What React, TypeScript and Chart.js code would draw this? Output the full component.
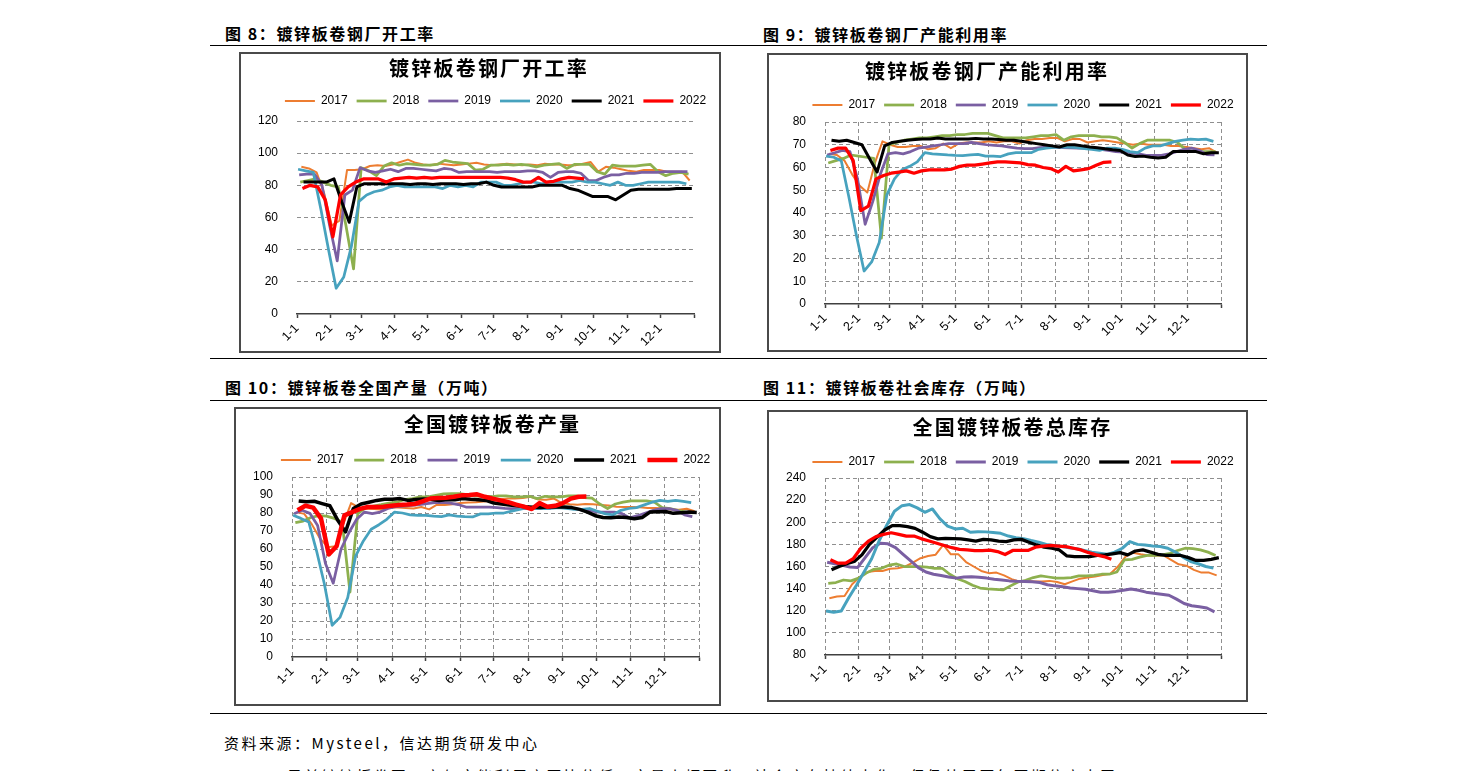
import React, { useEffect, useRef } from "react";
import { Chart, registerables } from "chart.js";

Chart.register(...registerables);

const AXIS_FONT = "'Liberation Sans', Arial, sans-serif";
const CJK_FONT = "'Noto Sans CJK SC', 'Noto Sans', sans-serif";

const YEARS = ["2017", "2018", "2019", "2020", "2021", "2022"];
// day-of-year of each year's first weekly observation
const YEAR_START_DAY = [4, 3, 2, 1, 6, 5];
const YEAR_COLORS = ["#ED7D31", "#8DB04E", "#7A5FA2", "#47A2BE", "#000000", "#FF0000"];
const MONTH_START_DAY = [0, 31, 59, 90, 120, 151, 181, 212, 243, 273, 304, 334];
const MONTH_LABELS = ["1-1", "2-1", "3-1", "4-1", "5-1", "6-1", "7-1", "8-1", "9-1", "10-1", "11-1", "12-1"];
const YEAR_LENGTH = 365;

// 图8 镀锌板卷钢厂开工率 (%)
const RATE_2017 = [91.5, 90.5, 88, 75, 55, 58, 89.5, 89.5, 90, 92, 92.5, 92, 93,
  94.5, 96, 94, 93, 92.5, 93.5, 93, 92.5, 93, 93.5, 94, 93, 92.5,
  93, 93.5, 93, 92.5, 93, 92.5, 93.5, 93, 93, 92.5, 92.5, 93.5, 94.5,
  88.5, 91.5, 91, 90, 89, 88.5, 89.5, 89.5, 89.5, 88.5, 88.5, 88.5, 83];
const RATE_2018 = [82, 83, 84, 82, 80, 79, 55, 28, 91, 89, 86, 92, 94,
  92.5, 93.5, 93, 92.5, 92.5, 93, 95.5, 94.5, 94, 93.5, 89.5, 90, 92.5,
  92.5, 93, 92.5, 93, 92.5, 91.5, 92.5, 93, 93.5, 90.5, 93, 93, 93,
  88.5, 87, 92.5, 92, 92, 92, 92.5, 93, 88.5, 86, 87.5, 88, 87];
const RATE_2019 = [86.5, 87, 87, 80, 55, 33, 74, 77, 91, 89, 88, 89, 90,
  88.5, 90.5, 90.5, 90, 89.5, 89, 90.5, 90, 88, 88.5, 88.5, 88.5, 88.5,
  88, 88.5, 88.5, 88.5, 89, 89, 88, 85, 88, 88.5, 88.5, 87.5, 83,
  83, 85, 86.5, 86.5, 87.5, 87.5, 88, 88, 88, 88.5, 88.5, 88.5, 88.5];
const RATE_2020 = [90, 89, 88, 65, 40, 16, 23, 42, 70, 74, 76, 77, 79,
  80, 79, 79, 79, 79, 79, 78, 80, 79, 80, 79, 82, 82,
  82, 80, 80, 81, 82, 82, 81, 82, 82, 82, 82, 83, 82,
  82, 81, 80, 82, 80, 80, 81, 82, 82, 82, 82, 82, 81];
const RATE_2021 = [82, 82, 82, 82, 84, 70, 57, 79, 81, 81, 81, 81, 81,
  81, 80.5, 81, 81, 80.5, 81, 81, 81, 80.5, 81, 81, 82, 80,
  79, 79, 79, 79, 79, 80, 80, 80, 80, 78, 77, 75, 73,
  73, 73, 71, 74, 77, 77.5, 77.5, 77.5, 77.5, 77.5, 78, 78, 78];
const RATE_2022 = [78, 80, 79, 71, 48, 74, 79, 82, 84, 84, 84, 82, 84,
  84.5, 85, 84.5, 85, 84.5, 85, 85, 85, 85, 85, 85, 85, 85,
  85, 84.5, 83.5, 82, 82, 85, 82, 82.5, 84, 85, 84.5, 84];

// 图9 镀锌板卷钢厂产能利用率 (%)
const UTIL_2017 = [66, 65.5, 63, 57, 52, 49, 62, 71.5, 70, 69, 69, 69.5, 69.5,
  68, 68.5, 70.5, 68.5, 70.5, 71, 71, 71, 71.5, 71, 71.5, 71.5, 70.5,
  72, 72.5, 72.5, 73, 73, 71.5, 72.5, 72.5, 71, 71.5, 72, 71.5, 71,
  70.5, 70, 70.5, 70, 70, 70, 69.5, 69.5, 69, 68.5, 68, 68.5, 66.5];
const UTIL_2018 = [62, 63, 64, 65.5, 65, 64.5, 64, 29, 70, 71, 72, 72.5, 73,
  73, 73.5, 74, 74, 74.5, 74.5, 75, 75, 75, 74, 73, 73, 73,
  73, 73.5, 74, 74, 74.5, 72, 73.5, 74, 74, 74, 73.5, 73.5, 73,
  71, 68.5, 70.5, 72, 72, 72, 72, 71, 68, 67, 67, 67, 67];
const UTIL_2019 = [65.5, 66.5, 67.5, 67, 55, 35, 45, 57, 66, 66.5, 66, 67, 68.5,
  69, 69.5, 70, 70.5, 70.5, 70.5, 71, 70.5, 70, 69.7, 69.5, 69, 68.5,
  68.3, 68.3, 68.7, 69, 69, 68.7, 68.6, 68.5, 68.5, 68.3, 68, 67.5, 67,
  66.8, 66.5, 66, 65.3, 65.3, 65.3, 66, 67, 68, 68.5, 67.5, 65.7, 65.5];
const UTIL_2020 = [65, 64.5, 63, 47, 30, 14.5, 18.5, 27, 48, 55, 59, 60.5, 62.5,
  66.5, 66, 65.8, 65.5, 65.3, 65.2, 65.5, 65.8, 65, 65, 64.8, 66, 66.5,
  66.5, 66.5, 68, 68.5, 68.8, 69, 69, 68.7, 68.3, 68, 67.5, 68.5, 68.5,
  68, 67, 66.5, 68.5, 69.5, 69.5, 70.5, 71.5, 72, 72.5, 72.3, 72.5, 71.5];
const UTIL_2021 = [72, 71.5, 72, 71, 70, 64, 58, 69.5, 71, 71.5, 72, 72.3, 72.5,
  72.5, 73, 72.5, 72.5, 72.5, 72.5, 72.8, 72.5, 72.5, 72.3, 72, 72, 71.5,
  71, 70.5, 70, 69.5, 69, 70, 70, 69.5, 69, 68.7, 68.2, 67.8, 67.5,
  65.5, 64.8, 65, 64.5, 64.2, 64.5, 67, 67, 67, 67, 66, 66.5, 66.5];
const UTIL_2022 = [67.5, 68.5, 68.5, 63, 41, 43, 55, 56.5, 57.5, 58, 58.5, 57.5, 58.5,
  59, 59, 59, 59.3, 60.5, 61, 61, 61.5, 62, 62.5, 62.5, 62.3, 62,
  61.3, 61, 60, 59.5, 58, 60.5, 58.5, 59, 59.5, 61, 62.3, 62.5];

// 图10 镀锌板卷全国产量 (万吨)
const OUTPUT_2017 = [80.5, 79.5, 73.5, 66, 61, 61.5, 74, 85.5, 83, 82.4, 82.2, 81.8, 83,
  83, 82.8, 82.5, 83.3, 82, 84.6, 84.4, 84.8, 85.5, 85.8, 86, 86.4, 86.8,
  87.5, 88, 88, 88.3, 89, 87.5, 87.3, 88, 85.5, 84.8, 84.6, 85, 84.8,
  84.5, 84.2, 83.5, 83.3, 83.3, 83.2, 82.8, 82.8, 82.5, 82, 81.8, 82.4, 81];
const OUTPUT_2018 = [74.6, 75.5, 77.5, 78.5, 78.3, 77, 75, 36, 79.6, 83, 83.8, 84.6, 85.5,
  86, 87.5, 88, 89, 89, 89.8, 90.6, 90.7, 90.7, 90.2, 89.5, 89.3, 89,
  89.5, 89.5, 89, 89, 89.3, 88, 89.3, 89, 89, 89.5, 89.5, 88.5, 88.3,
  85, 82.5, 85, 86, 86.7, 86.7, 86.7, 86, 83, 82.4, 81.5, 80.5, 80];
const OUTPUT_2019 = [79.6, 81.5, 79.8, 73, 52, 41, 60, 69, 76.5, 80.5, 79.6, 80.5, 82.5,
  83.5, 83.8, 84.2, 84.6, 85.2, 85.7, 85.9, 85.5, 84.7, 83.3, 83.3, 83.3, 83.3,
  83, 82.6, 82.4, 82.4, 82.6, 83.3, 83, 83, 83.3, 83, 82.5, 81.5, 81.2,
  80.5, 80.5, 80.5, 79.6, 77.3, 78.5, 80, 81.5, 82.4, 82.4, 81.5, 79, 78];
const OUTPUT_2020 = [78.7, 77, 75, 59, 40.7, 17.6, 22, 33, 56, 64.5, 71, 73.5, 76.5,
  80.5, 80, 79, 78.7, 78.7, 78.3, 78, 79, 78.3, 78, 77.8, 79.5, 79.5,
  80, 80, 81, 82, 83, 82.5, 82.5, 82.5, 83, 82.5, 82, 82, 82.5,
  81, 79.5, 79, 81.5, 82.5, 83, 84.5, 86, 87, 86.5, 87, 86.5, 85.8];
const OUTPUT_2021 = [86.7, 86.2, 86.5, 85.2, 84, 76, 69.5, 82.5, 85, 86, 87, 87.6, 87.6,
  88, 87, 87.5, 87.8, 87.5, 87, 87.5, 87.3, 88, 87.6, 87.3, 87, 85.5,
  85, 84.5, 84, 83.5, 83.2, 83, 83.5, 83.3, 83.3, 83, 82, 80.5, 78.5,
  77.5, 77.3, 77.8, 77.5, 76.8, 77.5, 80.5, 80.7, 80.8, 79.8, 80.2, 80.5, 80.3];
const OUTPUT_2022 = [81.5, 84, 83, 77, 57, 61.5, 78.7, 80.5, 82.3, 83.3, 83.3, 83.5, 84,
  84.5, 84.7, 85, 86.5, 88, 88.3, 88.5, 89, 89.8, 90, 90.4, 89, 88,
  87, 86, 84.7, 83.5, 82.2, 85.5, 83.5, 84, 85.5, 88, 89, 89.2];

// 图11 镀锌板卷社会库存 (万吨)
const STOCK_2017 = [131.3, 132.8, 133.4, 144, 150.5, 155, 156, 156, 158, 158.5, 160, 163.5, 167.5,
  169.5, 170.7, 179.5, 171, 171, 164, 160, 156, 154, 154.5, 152, 148.5, 146.4,
  147, 146.5, 146.5, 147, 146, 144, 146.5, 149, 150, 151, 152.4, 153.5, 160,
  169, 172.5, 171, 170, 170, 170, 166, 162, 160.8, 157, 154.5, 154.5, 152];
const STOCK_2018 = [144.8, 145.5, 147.8, 147, 149.5, 154, 157.5, 158.4, 161.2, 162.3, 160, 160, 159.8,
  159.5, 158.4, 158.4, 153, 149, 146.5, 143, 140.5, 139.8, 139.3, 138.8, 142.5, 146,
  147.5, 150, 151.5, 150.5, 149.5, 149.5, 150, 151.5, 151.5, 152, 153, 153, 155,
  166, 166.5, 168.5, 170, 170, 170.5, 172, 174.5, 176.5, 176.2, 175, 173, 170];
const STOCK_2019 = [163.8, 162.5, 161, 159.5, 159, 168, 177, 181, 180.5, 177, 171, 165, 159,
  155, 153, 151.8, 150.5, 149.5, 150.5, 150.8, 150.2, 149.5, 148.5, 147.8, 147, 146.6,
  146.4, 146.2, 145.5, 143.5, 142.5, 141.8, 140.6, 140, 139.5, 138, 136.8, 136.8, 137.5,
  138.5, 139.7, 138.5, 136.8, 135.8, 135, 134, 130.5, 126.5, 124.5, 123.7, 122.5, 119];
const STOCK_2020 = [119.8, 118.6, 119.8, 132, 143, 155, 167, 183.5, 197.5, 210, 215, 216, 213,
  209, 212, 203, 196.5, 194, 194.6, 191, 191.5, 191.3, 190.7, 190, 187.5, 186,
  185.2, 183.5, 182, 180, 179, 178, 177, 176, 174.5, 173, 172, 171, 173,
  176.5, 182.5, 180, 179.5, 178.5, 178, 176.5, 173, 168.5, 164.5, 162.5, 160, 158.5];
const STOCK_2021 = [157, 160, 162.5, 164.5, 170.5, 180, 186.5, 193, 197, 197, 196, 194.5, 191,
  187, 185, 185.5, 185.3, 185, 184, 183, 184.5, 184, 183, 182.5, 184, 184.5,
  182, 179.5, 177.5, 176.5, 175, 169.5, 169, 169, 169, 170, 170.5, 171.5, 172.5,
  170.5, 174, 175, 173, 171, 170, 170, 170, 168, 165.5, 165.5, 166.5, 168];
const STOCK_2022 = [166, 163, 163, 167, 176.5, 183, 187, 189, 190.5, 189, 187.5, 187.5, 185,
  183, 181, 179, 177, 175.5, 175, 174.4, 174.4, 174.8, 173.5, 170.8, 174.5, 174.5,
  174.5, 177.5, 178.5, 179, 178.5, 178, 176.5, 175, 172.5, 170.5, 169, 166.5];

type Box = { x: number; y: number; w: number; h: number };
type Plot = { l: number; r: number; t: number; b: number };
type Spec = {
  title: string;
  titleX: number;
  titleY: number;
  box: Box;
  plot: Plot;
  legendY: number;
  legendPad: number;
  yMin: number;
  yMax: number;
  yStep: number;
  series: number[][];
  widths: number[];
  vGrid: boolean;
};

const SPECS: Spec[] = [
  {
    title: "镀锌板卷钢厂开工率", titleX: 489, titleY: 69,
    box: { x: 239, y: 52, w: 482, h: 301 }, plot: { l: 297, r: 694, t: 121, b: 314 },
    legendY: 99, legendPad: 9, yMin: 0, yMax: 120, yStep: 20,
    series: [RATE_2017, RATE_2018, RATE_2019, RATE_2020, RATE_2021, RATE_2022],
    widths: [2, 2.75, 2.75, 2.75, 3, 3.25], vGrid: false,
  },
  {
    title: "镀锌板卷钢厂产能利用率", titleX: 987, titleY: 72,
    box: { x: 767, y: 53, w: 481, h: 299 }, plot: { l: 825, r: 1221, t: 122, b: 304 },
    legendY: 103, legendPad: 9, yMin: 0, yMax: 80, yStep: 10,
    series: [UTIL_2017, UTIL_2018, UTIL_2019, UTIL_2020, UTIL_2021, UTIL_2022],
    widths: [2, 2.75, 2.75, 2.75, 3, 3.25], vGrid: true,
  },
  {
    title: "全国镀锌板卷产量", titleX: 492.5, titleY: 425,
    box: { x: 234, y: 407, w: 487, h: 299 }, plot: { l: 292, r: 699, t: 477, b: 657 },
    legendY: 458, legendPad: 10.6, yMin: 0, yMax: 100, yStep: 10,
    series: [OUTPUT_2017, OUTPUT_2018, OUTPUT_2019, OUTPUT_2020, OUTPUT_2021, OUTPUT_2022],
    widths: [2, 2.75, 2.75, 2.75, 3.5, 4.5], vGrid: true,
  },
  {
    title: "全国镀锌板卷总库存", titleX: 1012.5, titleY: 428,
    box: { x: 767, y: 410, w: 481, h: 292 }, plot: { l: 825, r: 1221, t: 478, b: 655 },
    legendY: 460, legendPad: 9, yMin: 80, yMax: 240, yStep: 20,
    series: [STOCK_2017, STOCK_2018, STOCK_2019, STOCK_2020, STOCK_2021, STOCK_2022],
    widths: [2, 2.75, 3, 3, 3.25, 3.25], vGrid: true,
  },
];

const SIDE = 60;
const GRID_COLOR = "#8f8f8f";
const AXIS_COLOR = "#404040";

function makeConfig(s: Spec): any {
  const padTop = s.legendY - s.box.y - s.legendPad - 4;
  const gap = Math.max(0, s.plot.t - s.legendY - 18);
  const xH = s.box.y + s.box.h - s.plot.b;
  const datasets = YEARS.map((year, k) => ({
    label: year,
    data: s.series[k].map((v, i) => ({ x: YEAR_START_DAY[k] + 7 * i, y: v })),
    borderColor: YEAR_COLORS[k],
    backgroundColor: YEAR_COLORS[k],
    borderWidth: s.widths[k],
    pointRadius: 0,
    pointHoverRadius: 0,
    tension: 0,
    fill: false,
    borderJoinStyle: "round",
    order: YEARS.length - k,
    xAxisID: "x",
    yAxisID: "y",
  }));
  return {
    type: "line",
    data: { datasets },
    options: {
      responsive: false,
      animation: false,
      events: [],
      layout: { padding: { left: 0, right: 0, top: padTop, bottom: 0 } },
      plugins: {
        title: { display: false },
        tooltip: { enabled: false },
        legend: {
          display: true,
          position: "top",
          align: "center",
          labels: {
            usePointStyle: true,
            pointStyle: "line",
            pointStyleWidth: 30,
            boxHeight: 12,
            padding: s.legendPad,
            color: "#000",
            font: { family: AXIS_FONT, size: 12 },
            sort: (a: any, b: any) => a.datasetIndex - b.datasetIndex,
          },
        },
      },
      scales: {
        x: {
          type: "linear",
          axis: "x",
          position: "bottom",
          min: 0,
          max: YEAR_LENGTH,
          afterBuildTicks: (sc: any) => {
            sc.ticks = [...MONTH_START_DAY, YEAR_LENGTH].map((v) => ({ value: v }));
          },
          afterFit: (sc: any) => {
            sc.height = xH;
          },
          ticks: {
            autoSkip: false,
            minRotation: 45,
            maxRotation: 45,
            padding: 3,
            color: "#000",
            font: { family: AXIS_FONT, size: 12.5 },
            callback: (_v: any, i: number) => (i < MONTH_LABELS.length ? MONTH_LABELS[i] : ""),
          },
          grid: {
            display: true,
            drawOnChartArea: s.vGrid,
            drawTicks: true,
            tickLength: 4,
            tickColor: AXIS_COLOR,
            tickWidth: 1.5,
            color: GRID_COLOR,
            lineWidth: 1,
          },
          border: { display: true, color: AXIS_COLOR, width: 1.5, dash: [4, 3], z: 1 },
        },
        gapTop: {
          type: "linear",
          axis: "x",
          position: "top",
          display: true,
          ticks: { display: false },
          grid: { display: false },
          border: { display: false },
          afterFit: (sc: any) => {
            sc.height = gap;
          },
        },
        y: {
          type: "linear",
          axis: "y",
          position: "left",
          min: s.yMin,
          max: s.yMax,
          afterFit: (sc: any) => {
            sc.width = SIDE;
          },
          ticks: {
            stepSize: s.yStep,
            padding: 19,
            color: "#000",
            font: { family: AXIS_FONT, size: 12 },
          },
          grid: {
            drawTicks: false,
            lineWidth: 1,
            color: (c: any) => (c.tick && c.tick.value === s.yMin ? "rgba(0,0,0,0)" : GRID_COLOR),
          },
          border: { display: false, dash: [4, 3] },
        },
        yRight: {
          type: "linear",
          axis: "y",
          position: "right",
          display: true,
          ticks: { display: false },
          grid: { display: false },
          border: { display: false },
          afterFit: (sc: any) => {
            sc.width = SIDE;
          },
        },
      },
    },
  };
}

function LineChart({ spec }: { spec: Spec }) {
  const ref = useRef<HTMLCanvasElement | null>(null);
  const cw = Math.round(spec.plot.r - spec.plot.l) + 2 * SIDE;
  const cLeft = spec.plot.l - SIDE;
  const cTop = spec.box.y;
  const ch = spec.box.h;
  useEffect(() => {
    if (!ref.current) return;
    const chart = new Chart(ref.current, makeConfig(spec));
    return () => chart.destroy();
  }, [spec]);
  return (
    <>
      <div
        style={{
          position: "absolute",
          left: spec.box.x,
          top: spec.box.y,
          width: spec.box.w,
          height: spec.box.h,
          border: "2px solid #4a4a4a",
          boxSizing: "border-box",
        }}
      />
      <canvas
        ref={ref}
        width={cw}
        height={ch}
        style={{ position: "absolute", left: cLeft, top: cTop, width: cw, height: ch }}
      />
      <div
        style={{
          position: "absolute",
          left: spec.titleX,
          top: spec.titleY - 12,
          transform: "translateX(-50%)",
          whiteSpace: "nowrap",
          fontFamily: CJK_FONT,
          fontWeight: 700,
          fontSize: 20,
          lineHeight: "22px",
          letterSpacing: "2.2px",
          color: "#000",
        }}
      >
        {spec.title}
      </div>
    </>
  );
}

const HEADERS = [
  { text: "图 8：镀锌板卷钢厂开工率", x: 225, y: 24 },
  { text: "图 9：镀锌板卷钢厂产能利用率", x: 763, y: 25 },
  { text: "图 10：镀锌板卷全国产量（万吨）", x: 225, y: 378 },
  { text: "图 11：镀锌板卷社会库存（万吨）", x: 763, y: 378 },
];
const RULES_Y = [45, 358, 400, 713];

export default function App() {
  return (
    <div
      style={{
        position: "absolute",
        left: 0,
        top: 0,
        width: 1458,
        height: 771,
        overflow: "hidden",
        background: "#fff",
      }}
    >
      {HEADERS.map((h) => (
        <div
          key={h.text}
          style={{
            position: "absolute",
            left: h.x,
            top: h.y,
            whiteSpace: "nowrap",
            fontFamily: CJK_FONT,
            fontWeight: 700,
            fontSize: 16,
            lineHeight: "18px",
            letterSpacing: "1.6px",
            color: "#000",
          }}
        >
          {h.text}
        </div>
      ))}
      {RULES_Y.map((y) => (
        <div
          key={y}
          style={{ position: "absolute", left: 210, top: y, width: 1057, height: 1, background: "#000" }}
        />
      ))}
      {SPECS.map((s) => (
        <LineChart key={s.title} spec={s} />
      ))}
      <div
        style={{
          position: "absolute",
          left: 224,
          top: 734,
          whiteSpace: "nowrap",
          fontFamily: CJK_FONT,
          fontSize: 15,
          lineHeight: "18px",
          letterSpacing: "2.5px",
          color: "#000",
        }}
      >
        资料来源：Mysteel，信达期货研发中心
      </div>
      <div
        style={{
          position: "absolute",
          left: 287,
          top: 767,
          whiteSpace: "nowrap",
          fontFamily: CJK_FONT,
          fontSize: 15,
          lineHeight: "18px",
          letterSpacing: "2.3px",
          color: "#000",
        }}
      >
        目前镀锌板卷开工率与产能利用率同比偏低，产量小幅回升，社会库存持续去化，但仍处于历年同期偏高水平。
      </div>
    </div>
  );
}
